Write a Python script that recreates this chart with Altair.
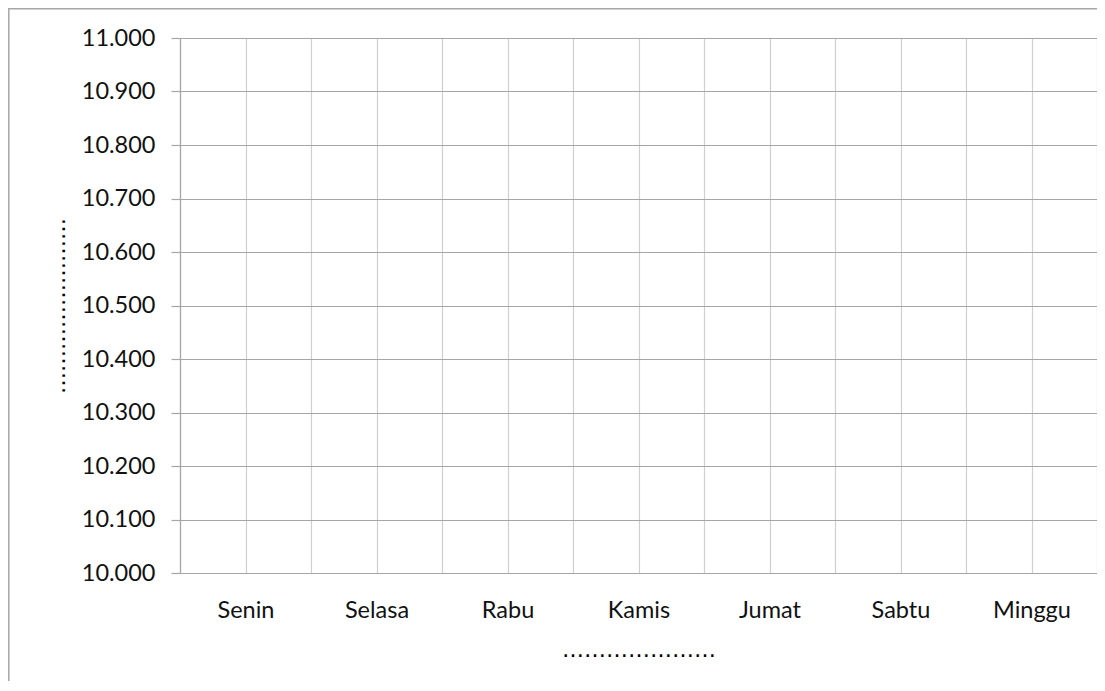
import json
import altair as alt
import pandas as pd

# ---- data ----
days = ["Senin", "Selasa", "Rabu", "Kamis", "Jumat", "Sabtu", "Minggu"]
y_ticks = [10000, 10100, 10200, 10300, 10400, 10500, 10600, 10700, 10800, 10900, 11000]
x_grid = [i / 2 for i in range(2 * len(days) + 1)]
x_title = "\u2026" * 7
y_title = "\u2026" * 8

df = pd.DataFrame({"pos": [i + 0.5 for i in range(len(days))],
                   "hari": days,
                   "nilai": [y_ticks[0]] * len(days)})

days_js = json.dumps(days)

W, H = 917, 535
LABEL_FONT = "Lato"
LABEL_SIZE = 23.5

base = alt.Chart(df).mark_point(opacity=0).encode(
    x=alt.X("pos:Q",
            scale=alt.Scale(domain=[0, len(days)], nice=False, zero=False),
            axis=alt.Axis(values=x_grid,
                          labelExpr=f"(datum.value % 1) != 0 ? {days_js}[floor(datum.value)] : ''",
                          labelOverlap=False, labelFlush=False,
                          ticks=False, tickSize=0,
                          labelPadding=44, labelBaseline="alphabetic",
                          labelFont=LABEL_FONT, labelFontSize=LABEL_SIZE, labelColor="#111111",
                          domainColor="#a6a6a6", domainWidth=1.2,
                          grid=True, gridColor="#cfcfcf", gridWidth=1.2,
                          title=x_title, titleFont="DejaVu Sans", titleFontSize=22,
                          titleFontWeight="normal", titleColor="#000000",
                          titleX=W / 2, titleY=83.5, titleAlign="center",
                          titleBaseline="alphabetic")),
    y=alt.Y("nilai:Q",
            scale=alt.Scale(domain=[y_ticks[0], y_ticks[-1]], nice=False, zero=False),
            axis=alt.Axis(values=y_ticks,
                          labelExpr="replace(format(datum.value, ',.0f'), ',', '.')",
                          labelOverlap=False, labelFlush=False,
                          tickSize=9, tickColor="#a6a6a6", tickWidth=1.2,
                          labelPadding=16,
                          labelFont=LABEL_FONT, labelFontSize=LABEL_SIZE, labelColor="#111111",
                          domainColor="#a6a6a6", domainWidth=1.2,
                          grid=True, gridColor="#a6a6a6", gridWidth=1.2,
                          title=y_title, titleFont="DejaVu Sans", titleFontSize=22,
                          titleFontWeight="normal", titleColor="#000000",
                          titleX=-115.5, titleY=H / 2, titleAlign="center",
                          titleAngle=270, titleBaseline="alphabetic")),
)

frame = pd.DataFrame({"k": [0]})
left_border = alt.Chart(frame).mark_rule(color="#a6a6a6", strokeWidth=1.5).encode(
    x=alt.value(-171.2), y=alt.value(-30), y2=alt.value(H + 200))
top_border = alt.Chart(frame).mark_rule(color="#a6a6a6", strokeWidth=1.5).encode(
    x=alt.value(-172), x2=alt.value(W + 50), y=alt.value(-29.2))

chart = alt.layer(base, left_border, top_border).properties(
    width=W, height=H,
    padding={"left": 172, "top": 30, "right": 0, "bottom": 108},
    autosize=alt.AutoSizeParams(type="none"),
).configure_view(stroke=None).configure(background="white")

chart.save("out.html", embed_options={"renderer": "svg", "actions": False})
